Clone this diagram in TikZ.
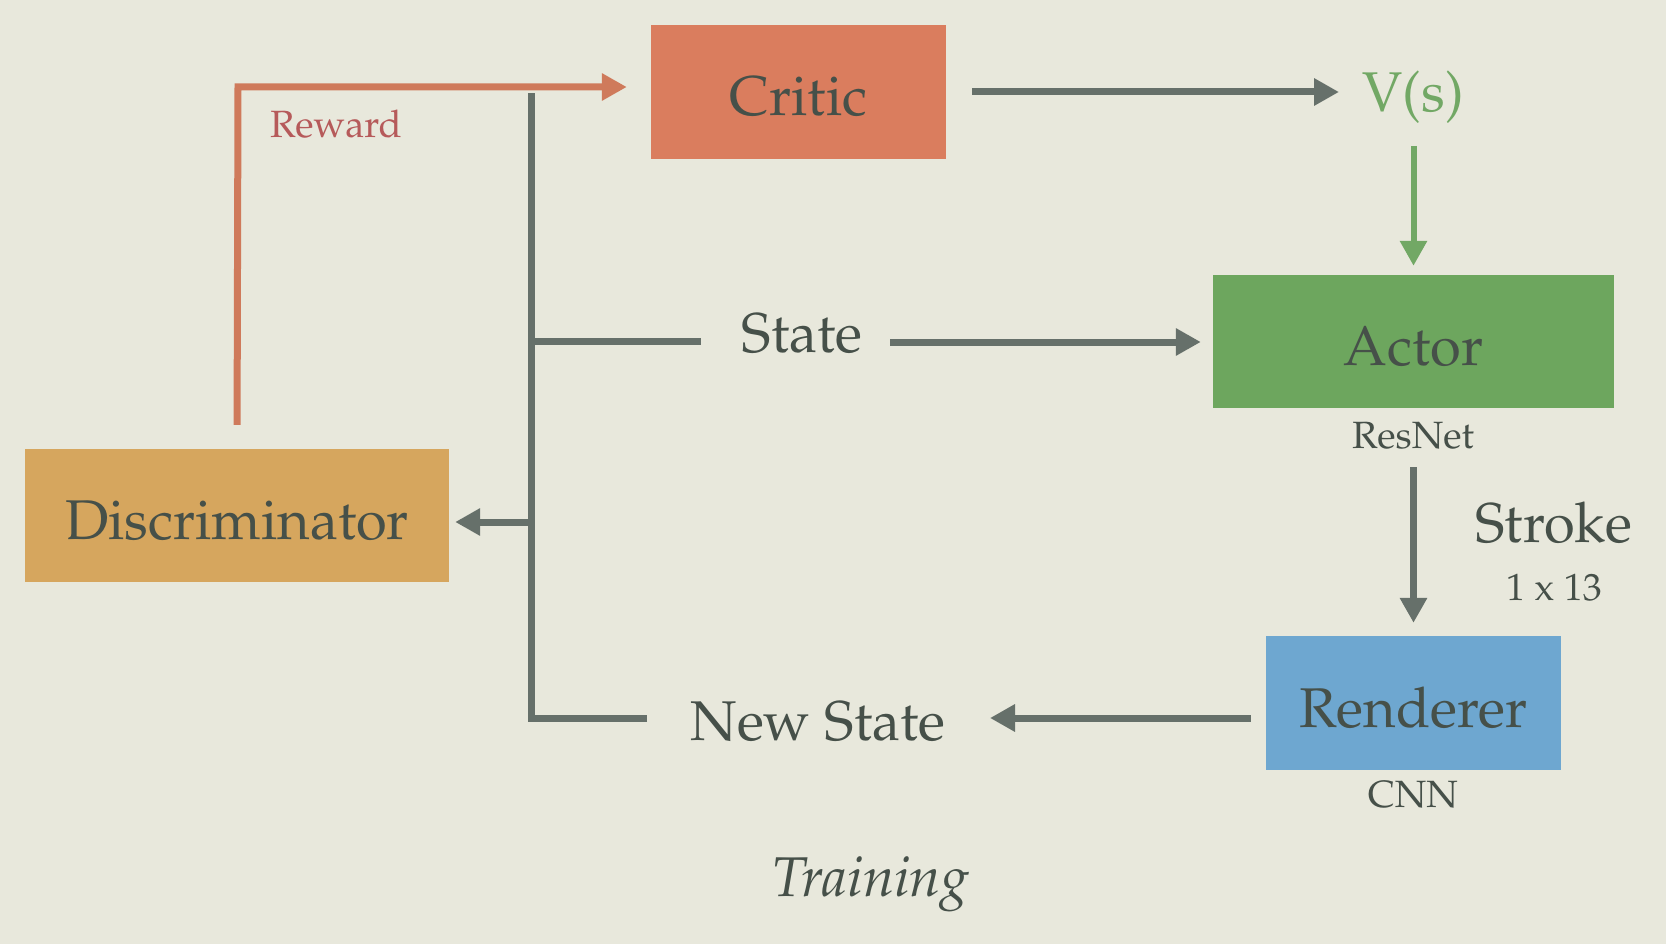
\documentclass[tikz,border=0pt]{standalone}
\usepackage[T1]{fontenc}
\usepackage{mathpazo}
\usetikzlibrary{arrows.meta}
\definecolor{paper}{HTML}{E8E8DC}
\definecolor{linegray}{HTML}{66706A}
\definecolor{textgray}{HTML}{465049}
\definecolor{criticfill}{HTML}{DA7D5E}
\definecolor{actorfill}{HTML}{6DA65E}
\definecolor{discfill}{HTML}{D6A65E}
\definecolor{rendfill}{HTML}{6EA7D0}
\definecolor{vsgreen}{HTML}{72A865}
\definecolor{rewardtext}{HTML}{B65A5A}
\definecolor{rewardline}{HTML}{CF7A5B}
\tikzset{
  box/.style={draw=none, inner sep=0pt, text=textgray, text height=48pt, text depth=0pt, font=\fontsize{56}{60}\selectfont},
  big/.style={inner sep=0pt, text=textgray, font=\fontsize{56}{60}\selectfont},
  small/.style={inner sep=0pt, text=textgray, font=\fontsize{38}{42}\selectfont},
  conn/.style={draw=linegray, line width=7pt},
  arr/.style={conn, -{Triangle[length=25pt,width=26pt]}},
  greenarr/.style={draw=vsgreen, line width=6pt, -{Triangle[length=25pt,width=26pt]}},
  rewardarr/.style={draw=rewardline, line width=7pt, -{Triangle[length=25pt,width=26pt]}},
}
\begin{document}
\begin{tikzpicture}[x=1pt,y=-1pt]
\useasboundingbox (0,0) rectangle (1666,944);
\fill[paper] (0,0) rectangle (1666,944);

% boxes
\node[box, fill=criticfill, minimum width=295pt, minimum height=134pt] (critic) at (798.5,92) {Critic};
\node[box, fill=actorfill, minimum width=401pt, minimum height=133pt] (actor) at (1413.5,341.5) {Actor};
\node[box, fill=discfill, minimum width=424pt, minimum height=133pt] (disc) at (237,515.5) {Discriminator};
\node[box, fill=rendfill, minimum width=295pt, minimum height=134pt] (rend) at (1413.5,703) {Renderer};

% labels
\node[big, text=vsgreen] (vs) at (1413,97) {V(s)};
\node[big] (state) at (802,334) {State};
\node[big] (newstate) at (818,722) {New State};
\node[big] (stroke) at (1554,523) {Stroke};
\node[small] (dims) at (1554,588) {1 x 13};
\node[small] (resnet) at (1413,436) {ResNet};
\node[small] (cnn) at (1413,795) {CNN};
\node[small, text=rewardtext] (reward) at (336,124) {Reward};
\node[big, font=\fontsize{56}{60}\selectfont\itshape] (training) at (871,884) {Training};

% coordinates
\coordinate (jtop) at (531,93);
\coordinate (jstate) at (531,341);
\coordinate (jdisc) at (531,522);
\coordinate (jbot) at (531,718);
\coordinate (rc) at (238,87);
\coordinate (cs) at (972,92);
\coordinate (ce) at (1339,92);
\coordinate (gs) at (1413.5,146);
\coordinate (ss) at (890,342);
\coordinate (sl) at (701,341);
\coordinate (ks) at (1413.5,467);
\coordinate (ns) at (990,718);
\coordinate (nl) at (647,718);

% connectors
\draw[arr] (cs) -- (ce);
\draw[greenarr, shorten >=9pt] (gs) -- (actor.north);
\draw[arr, shorten >=12pt] (ss) -- (actor.west |- ss);
\draw[arr, shorten >=13pt] (ks) -- (rend.north);
\draw[arr, shorten <=15pt] (rend.west |- ns) -- (ns);
\draw[conn] (nl) -- (jbot) -- (jtop);
\draw[conn] (jstate) -- (sl);
\draw[arr, shorten >=6pt] (jdisc) -- (disc.east |- jdisc);
\draw[rewardarr, shorten <=24pt, shorten >=24pt] (disc.north) -- (rc) -- (rc -| critic.west);
\end{tikzpicture}
\end{document}
